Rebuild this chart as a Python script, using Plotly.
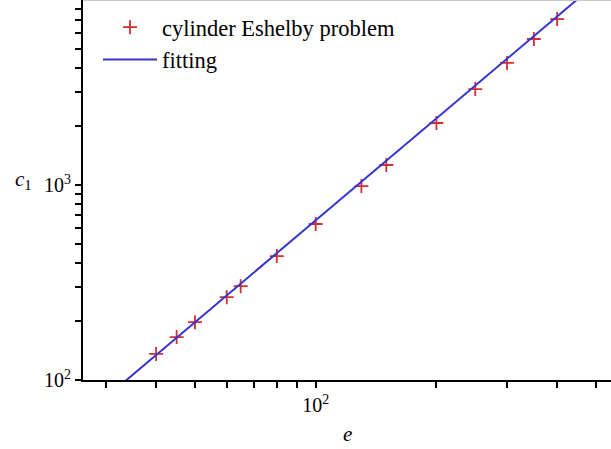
import plotly.graph_objects as go

# data
e_data = [40, 45, 50, 60, 65, 80, 100, 130, 150, 200, 250, 300, 350, 400]
c1_data = [136, 166, 198, 266, 303, 432, 631, 988, 1267, 2080, 3106, 4227, 5610, 7100]

# fitted power-law line (endpoints)
e_fit = [30, 600]
c1_fit = [81.5, 14800]

x_major = [100]
x_major_text = ["10<sup>2</sup>"]
x_minor = [30, 40, 50, 60, 70, 80, 90, 200, 300, 400, 500]
y_major = [100, 1000]
y_major_text = ["10<sup>2</sup>", "10<sup>3</sup>"]
y_minor = [200, 300, 400, 500, 600, 700, 800, 900,
           2000, 3000, 4000, 5000, 6000, 7000, 8000]

FONT = "Liberation Serif, Times New Roman, serif"
RED = "#d42f2f"
BLUE = "#3434d0"

fig = go.Figure()
fig.add_trace(go.Scatter(
    x=e_data, y=c1_data, mode="markers", name="cylinder Eshelby problem",
    legendgroup="a",
    marker=dict(symbol="cross-thin", size=10, color=RED,
                line=dict(color=RED, width=1.8)),
))
fig.add_trace(go.Scatter(
    x=e_fit, y=c1_fit, mode="lines", name="fitting", legendgroup="b",
    line=dict(color=BLUE, width=2),
))

tick_common = dict(ticks="outside", ticklen=6, tickwidth=1.6, tickcolor="black",
                   showline=True, linecolor="black", linewidth=2,
                   showgrid=False, zeroline=False,
                   tickfont=dict(family=FONT, size=20))

fig.update_layout(
    width=611, height=449,
    margin=dict(l=83, r=0, t=0, b=69),
    paper_bgcolor="white", plot_bgcolor="white",
    font=dict(family=FONT, size=20, color="black"),
    showlegend=True,
    legend=dict(
        x=15 / 528, xanchor="left", xref="paper",
        y=1.0 - 6 / 380, yanchor="top",
        bgcolor="rgba(0,0,0,0)", borderwidth=0,
        font=dict(family=FONT, size=22.5, color="black"),
        itemwidth=54, tracegroupgap=0,
    ),
    xaxis=dict(
        type="log", range=[1.4197, 2.7364],
        tickmode="array", tickvals=x_major, ticktext=x_major_text,
        minor=dict(tickmode="array", tickvals=x_minor, ticks="outside",
                   ticklen=6, tickwidth=1.6, tickcolor="black", showgrid=False),
        **tick_common,
    ),
    yaxis=dict(
        type="log", range=[2.0, 3.949],
        tickmode="array", tickvals=y_major, ticktext=y_major_text,
        minor=dict(tickmode="array", tickvals=y_minor, ticks="outside",
                   ticklen=6, tickwidth=1.6, tickcolor="black", showgrid=False),
        **tick_common,
    ),
    annotations=[
        dict(text="<i>e</i>", xref="paper", yref="paper", x=0.5, y=-54 / 380,
             xanchor="center", yanchor="middle", showarrow=False, borderpad=0,
             font=dict(family=FONT, size=21)),
        dict(text="<i>c</i><sub>1</sub>", xref="paper", yref="paper",
             x=-60 / 528, y=200 / 380, xanchor="center", yanchor="middle",
             showarrow=False, font=dict(family=FONT, size=21)),
    ],
    shapes=[
        dict(type="line", xref="paper", yref="paper", x0=0, x1=1, y0=1, y1=1,
             line=dict(color="#c8c8c8", width=2)),
    ],
)

fig.write_html("out.html", config={"displayModeBar": False},
               post_script="document.body.style.margin='0';document.body.style.padding='0';")
